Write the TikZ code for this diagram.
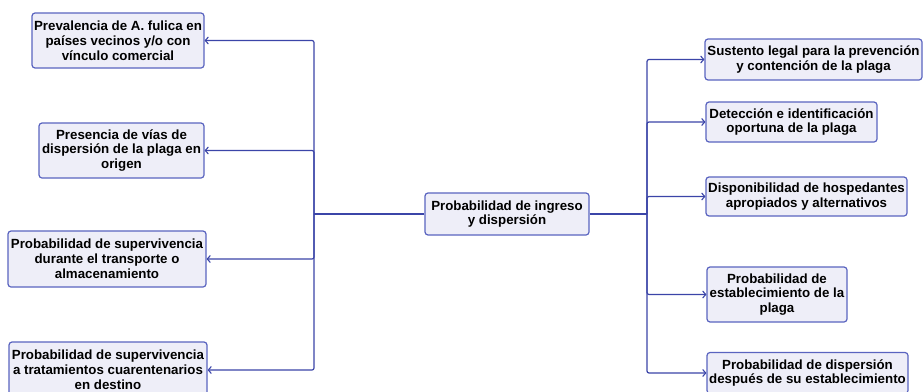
\documentclass[tikz,border=0pt]{standalone}
\usepackage{fontspec}
\setmainfont{Liberation Sans}
\usetikzlibrary{arrows.meta}
\definecolor{linkblue}{HTML}{3B45A8}
\definecolor{boxedge}{HTML}{5A64C0}
\definecolor{boxfill}{HTML}{EEEEF8}
\begin{document}
\begin{tikzpicture}[x=1pt,y=-1pt,
  box/.style={draw=boxedge, fill=boxfill, line width=1.2pt, rounded corners=3pt,
    align=center, inner sep=0pt, font=\fontsize{13.3}{14.8}\selectfont\bfseries},
  conn/.style={draw=linkblue, line width=1.2pt, rounded corners=2pt},
  arr/.style={conn, -{Straight Barb[length=3pt,width=7pt,line width=1.1pt]}}]
\useasboundingbox (0,0) rectangle (923,391);
\fill[white] (0,0) rectangle (923,391);

% central node
\node[box, minimum width=164pt, minimum height=42pt] (c) at (507,214)
  {Probabilidad de ingreso\\y dispersión};

% left branch
\node[box, minimum width=172pt, minimum height=55pt] (l1) at (118,40.5)
  {Prevalencia de A. fulica en\\países vecinos y/o con\\vínculo comercial};
\node[box, minimum width=165pt, minimum height=55pt] (l2) at (121.5,150.5)
  {Presencia de vías de\\dispersión de la plaga en\\origen};
\node[box, minimum width=198pt, minimum height=56pt] (l3) at (107,259)
  {Probabilidad de supervivencia\\durante el transporte o\\almacenamiento};
\node[box, minimum width=198pt, minimum height=56pt] (l4) at (108,370)
  {Probabilidad de supervivencia\\a tratamientos cuarentenarios\\en destino};

% right branch
\node[box, minimum width=217pt, minimum height=41pt] (r1) at (813.5,59.5)
  {Sustento legal para la prevención\\y contención de la plaga};
\node[box, minimum width=171pt, minimum height=40pt] (r2) at (791.5,122)
  {Detección e identificación\\oportuna de la plaga};
\node[box, minimum width=201pt, minimum height=39pt] (r3) at (806.5,196.5)
  {Disponibilidad de hospedantes\\apropiados y alternativos};
\node[box, minimum width=140pt, minimum height=55pt] (r4) at (777,294.5)
  {Probabilidad de\\establecimiento de la\\plaga};
\node[box, minimum width=201pt, minimum height=41pt] (r5) at (807.5,373)
  {Probabilidad de dispersión\\después de su establecimiento};

% junction points of the two trunks
\coordinate (lj) at (314,214);
\coordinate (rj) at (647,214);

\draw[conn] (c.west) -- (lj);
\draw[conn] (c.east) -- (rj);

\foreach \n in {l1,l2,l3,l4}
  \draw[arr] (lj) |- (\n.east);
\foreach \n in {r1,r2,r3,r4,r5}
  \draw[arr] (rj) |- (\n.west);
\end{tikzpicture}
\end{document}
